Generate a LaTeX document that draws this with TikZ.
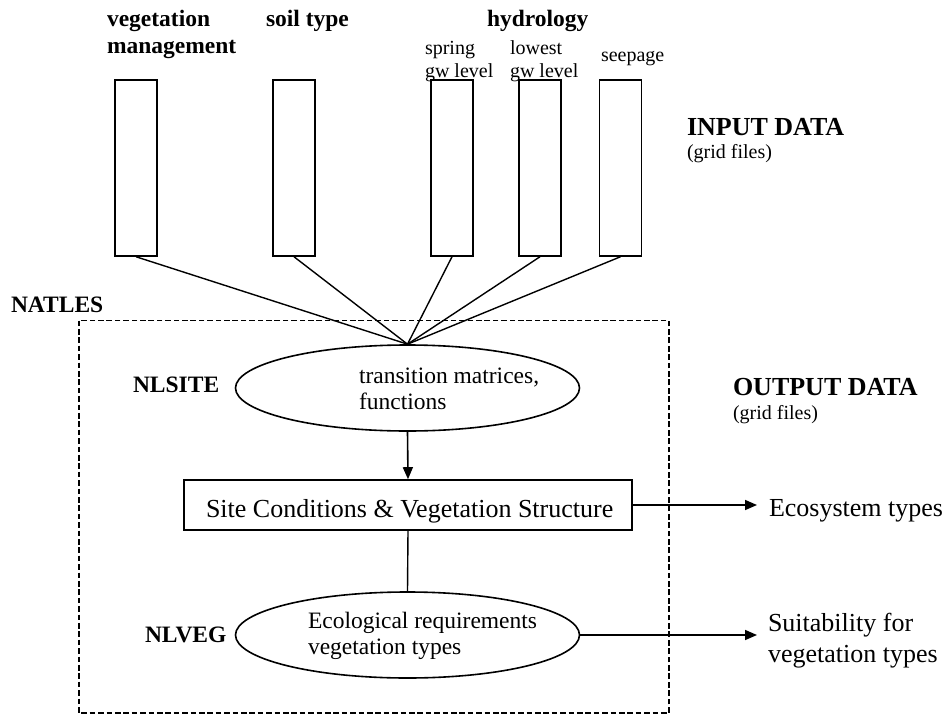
\documentclass[tikz,border=0pt]{standalone}
\usepackage{fontspec}
\setmainfont{Liberation Serif}
\usetikzlibrary{arrows.meta,shapes.geometric}
\begin{document}
\begin{tikzpicture}[x=1pt,y=-1pt,
  lbl/.style={anchor=base west,inner sep=0pt,outer sep=0pt},
  big/.style={lbl,font=\fontsize{26}{30}\selectfont},
  mid/.style={lbl,font=\fontsize{23.5}{27}\selectfont},
  small/.style={lbl,font=\fontsize{20}{22}\selectfont},
  bmid/.style={lbl,font=\fontsize{23.5}{27}\selectfont\bfseries},
  bbig/.style={lbl,font=\fontsize{26}{30}\selectfont\bfseries},
  bar/.style={draw,line width=1.5pt,minimum width=42pt,minimum height=176pt,inner sep=0pt},
  oval/.style={draw,ellipse,line width=1.6pt,minimum width=344pt,minimum height=86pt,inner sep=0pt},
  box/.style={draw,rectangle,line width=1.6pt,minimum width=448pt,minimum height=50pt,inner sep=0pt},
  conn/.style={line width=1.4pt},
  arr/.style={line width=1.6pt,-{Triangle[length=12pt,width=10pt]}},
  frame/.style={line width=1.4pt,dash pattern=on 5.7pt off 2.7pt}
]
\useasboundingbox (0,0) rectangle (946,715);
\fill[white] (0,0) rectangle (946,715);

% input labels
\node[bmid] (tveg1) at (107,26) {vegetation};
\node[bmid] (tveg2) at (107,53) {management};
\node[bmid] (tsoil) at (266,26) {soil type};
\node[bmid] (thyd) at (487,26) {hydrology};
\node[small] (tspr1) at (425,54) {spring};
\node[small] (tspr2) at (425,77) {gw level};
\node[small] (tlow1) at (510,54) {lowest};
\node[small] (tlow2) at (510,77) {gw level};
\node[small] (tsee) at (601,61) {seepage};
\node[bbig] (tin) at (687,135) {INPUT DATA};
\node[small] (tin2) at (687,158) {(grid files)};

% bars
\node[bar] (b1) at (136,168) {};
\node[bar] (b2) at (294,168) {};
\node[bar] (b3) at (452,168) {};
\node[bar] (b4) at (540,168) {};
\node[bar] (b5) at (620.5,168) {};

% NATLES frame
\node[bmid] (tnat) at (11,312) {NATLES};
\coordinate (fa) at (79,320.5);
\coordinate (fb) at (669,713);
\draw[frame] (fa) rectangle (fb);

% ellipse 1
\node[oval] (e1) at (407.5,388) {};
\node[bmid] (tsite) at (133,392) {NLSITE};
\node[mid] (te11) at (359,383) {transition matrices,};
\node[mid] (te12) at (359,409) {functions};

\foreach \b in {b1,b2,b3,b4,b5} \draw[conn] (\b.south) -- (e1.north);

% output labels
\node[bbig] (tout) at (733,395) {OUTPUT DATA};
\node[small] (tout2) at (733,419) {(grid files)};

% rectangle
\node[box] (r) at (408,505) {};
\node[big] (tr) at (206,517) {Site Conditions \& Vegetation Structure};
\draw[arr] (e1.south) -- (r.north);

% ellipse 2
\node[oval] (e2) at (407.5,635) {};
\node[bmid] (tveg) at (145,642) {NLVEG};
\node[mid] (te21) at (308,628) {Ecological requirements};
\node[mid] (te22) at (308,654) {vegetation types};
\draw[conn] (r.south) -- (e2.north);

% outputs
\coordinate (o1) at (757,505);
\coordinate (o2) at (757,635);
\draw[arr] (r.east) -- (o1);
\draw[arr] (e2.east) -- (o2);
\node[big] (teco) at (769,516) {Ecosystem types};
\node[big] (tsui1) at (768,631) {Suitability for};
\node[big] (tsui2) at (768,662) {vegetation types};
\end{tikzpicture}
\end{document}
